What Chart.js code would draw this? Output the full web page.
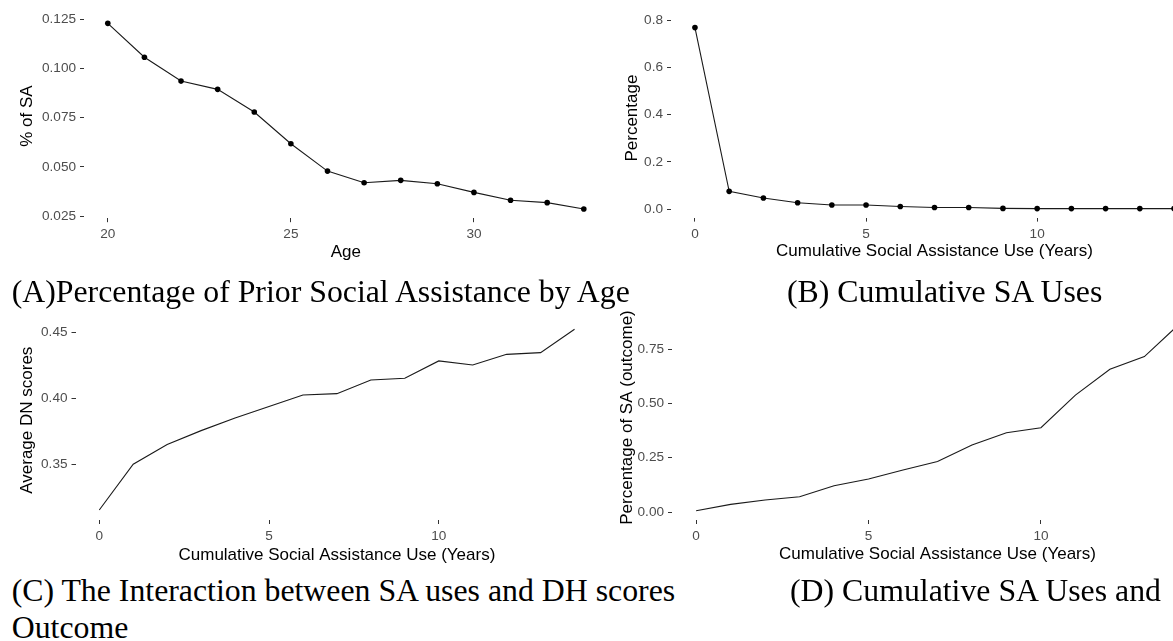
<!DOCTYPE html>
<html>
<head>
<meta charset="utf-8">
<script src="https://cdn.jsdelivr.net/npm/chart.js@4/dist/chart.umd.min.js"></script>
<style>
  html, body { margin:0; padding:0; background:#fff; }
  #page { position:relative; width:1173px; height:641px; overflow:hidden; background:#fff; }
  canvas { position:absolute; }
  .cap { position:absolute; white-space:nowrap; color:#000;
         font-family:"Liberation Serif","Times New Roman",serif; font-size:31.8px; line-height:37px; }
</style>
</head>
<body>
<div id="page">
  <canvas id="chA"></canvas>
  <canvas id="chB"></canvas>
  <canvas id="chC"></canvas>
  <canvas id="chD"></canvas>
  <div class="cap" style="left:11.7px; top:272.8px;">(A)Percentage of Prior Social Assistance by Age</div>
  <div class="cap" style="left:787px; top:272.8px;">(B) Cumulative SA Uses</div>
  <div class="cap" style="left:11.7px; top:571.8px;">(C) The Interaction between SA uses and DH scores<br>Outcome</div>
  <div class="cap" style="left:790px; top:571.8px;">(D) Cumulative SA Uses and</div>
</div>
<script>
// ---------- data ----------
const ageCategories = [20, 21, 22, 23, 24, 25, 26, 27, 28, 29, 30, 31, 32, 33];
const pctSAByAge = [0.1228, 0.1056, 0.0935, 0.0893, 0.0778, 0.0617, 0.0478, 0.0419, 0.0431, 0.0414, 0.0370, 0.0330, 0.0318, 0.0286];

const saYears = [0, 1, 2, 3, 4, 5, 6, 7, 8, 9, 10, 11, 12, 13, 14];
const pctCumSA = [0.768, 0.075, 0.047, 0.027, 0.017, 0.017, 0.011, 0.007, 0.007, 0.003, 0.002, 0.002, 0.002, 0.002, 0.002];
const avgDNScores = [0.3154, 0.350, 0.365, 0.3755, 0.385, 0.3937, 0.4025, 0.4035, 0.4139, 0.4152, 0.4283, 0.4252, 0.4333, 0.4346, 0.4523];
const pctSAOutcome = [0.006, 0.035, 0.055, 0.070, 0.121, 0.152, 0.193, 0.232, 0.308, 0.365, 0.388, 0.538, 0.657, 0.715, 0.863];

const xTicksAge = [20, 25, 30];
const xTickLabelsAge = ['20', '25', '30'];
const xTicksYears = [0, 5, 10];
const xTickLabelsYears = ['0', '5', '10'];

const yTicksA = [0.025, 0.050, 0.075, 0.100, 0.125];
const yTickLabelsA = ['0.025', '0.050', '0.075', '0.100', '0.125'];
const yTicksB = [0.0, 0.2, 0.4, 0.6, 0.8];
const yTickLabelsB = ['0.0', '0.2', '0.4', '0.6', '0.8'];
const yTicksC = [0.35, 0.40, 0.45];
const yTickLabelsC = ['0.35', '0.40', '0.45'];
const yTicksD = [0.00, 0.25, 0.50, 0.75];
const yTickLabelsD = ['0.00', '0.25', '0.50', '0.75'];

const xTitleAge = 'Age';
const xTitleYears = 'Cumulative Social Assistance Use (Years)';

// ---------- drawing ----------
Chart.defaults.font.family = "'Liberation Sans', Arial, sans-serif";

function makePanel(id, p) {
  const cv = document.getElementById(id);
  cv.width = p.box.width; cv.height = p.box.height;
  cv.style.left = p.box.left + 'px'; cv.style.top = p.box.top + 'px';
  cv.style.width = p.box.width + 'px'; cv.style.height = p.box.height + 'px';
  const yW = p.plot.l - p.box.left;
  const xH = p.box.top + p.box.height - p.plot.b;
  const gridOpts = { drawOnChartArea: false, drawTicks: true, tickLength: 4, color: '#333333', lineWidth: 1 };
  const tickFont = { size: 13.6 };
  new Chart(cv.getContext('2d'), {
    type: 'line',
    data: { datasets: [{
      data: p.xs.map((x, i) => ({ x: x, y: p.ys[i] })),
      borderColor: '#1a1a1a', borderWidth: 1.1, tension: 0,
      pointRadius: p.points ? 2.8 : 0, pointBackgroundColor: '#000', pointBorderWidth: 0,
      fill: false
    }]},
    options: {
      responsive: false, animation: false, devicePixelRatio: window.devicePixelRatio || 1,
      layout: { padding: { top: p.plot.t - p.box.top, right: p.box.left + p.box.width - p.plot.r, left: 0, bottom: 0 } },
      plugins: { legend: { display: false }, tooltip: { enabled: false } },
      scales: {
        x: {
          type: 'linear', min: p.xMin, max: p.xMax,
          afterBuildTicks: (ax) => { ax.ticks = p.xTicks.map(v => ({ value: v })); },
          afterFit: (ax) => { ax.height = xH; },
          ticks: { callback: (v, i) => p.xLabels[i], color: '#4D4D4D', font: tickFont, padding: 4, maxRotation: 0, autoSkip: false },
          grid: gridOpts, border: { display: false },
          title: { display: true, text: p.xTitle, color: '#000', font: { size: 17 }, padding: { top: 0, bottom: p.xTitlePad } }
        },
        y: {
          type: 'linear', min: p.yMin, max: p.yMax,
          afterBuildTicks: (ax) => { ax.ticks = p.yTicks.map(v => ({ value: v })); },
          afterFit: (ax) => { ax.width = yW; },
          ticks: { callback: (v, i) => p.yLabels[i], color: '#4D4D4D', font: tickFont, padding: 4, autoSkip: false },
          grid: gridOpts, border: { display: false },
          title: { display: true, text: p.yTitle, color: '#000', font: { size: 17 }, padding: { top: p.yTitlePad, bottom: 0 } }
        }
      }
    }
  });
}

makePanel('chA', {
  box: { left: 0, top: 0, width: 620, height: 265 },
  plot: { l: 84, t: 14.1, r: 607.6, b: 218.2 },
  xs: ageCategories, ys: pctSAByAge, points: true,
  xMin: 19.35, xMax: 33.65, yMin: 0.0239, yMax: 0.1275,
  xTicks: xTicksAge, xLabels: xTickLabelsAge, yTicks: yTicksA, yLabels: yTickLabelsA,
  xTitle: xTitleAge, yTitle: '% of SA', xTitlePad: 2.4, yTitlePad: 17.2
});

makePanel('chB', {
  box: { left: 590, top: 0, width: 620, height: 265 },
  plot: { l: 671, t: 18.6, r: 1198, b: 217.6 },
  xs: saYears, ys: pctCumSA, points: true,
  xMin: -0.7, xMax: 14.7, yMin: -0.036, yMax: 0.806,
  xTicks: xTicksYears, xLabels: xTickLabelsYears, yTicks: yTicksB, yLabels: yTickLabelsB,
  xTitle: xTitleYears, yTitle: 'Percentage', xTitlePad: 3, yTitlePad: 32.2
});

makePanel('chC', {
  box: { left: 0, top: 300, width: 620, height: 270 },
  plot: { l: 75.5, t: 320.4, r: 598.3, b: 520 },
  xs: saYears, ys: avgDNScores, points: false,
  xMin: -0.7, xMax: 14.7, yMin: 0.3078, yMax: 0.459,
  xTicks: xTicksYears, xLabels: xTickLabelsYears, yTicks: yTicksC, yLabels: yTickLabelsC,
  xTitle: xTitleYears, yTitle: 'Average DN scores', xTitlePad: 4, yTitlePad: 17.2
});

makePanel('chD', {
  box: { left: 590, top: 300, width: 625, height: 270 },
  plot: { l: 672, t: 315, r: 1203, b: 520 },
  xs: saYears, ys: pctSAOutcome, points: false,
  xMin: -0.7, xMax: 14.7, yMin: -0.0368, yMax: 0.9066,
  xTicks: xTicksYears, xLabels: xTickLabelsYears, yTicks: yTicksD, yLabels: yTickLabelsD,
  xTitle: xTitleYears, yTitle: 'Percentage of SA (outcome)', xTitlePad: 5, yTitlePad: 27.2
});
</script>
</body>
</html>
